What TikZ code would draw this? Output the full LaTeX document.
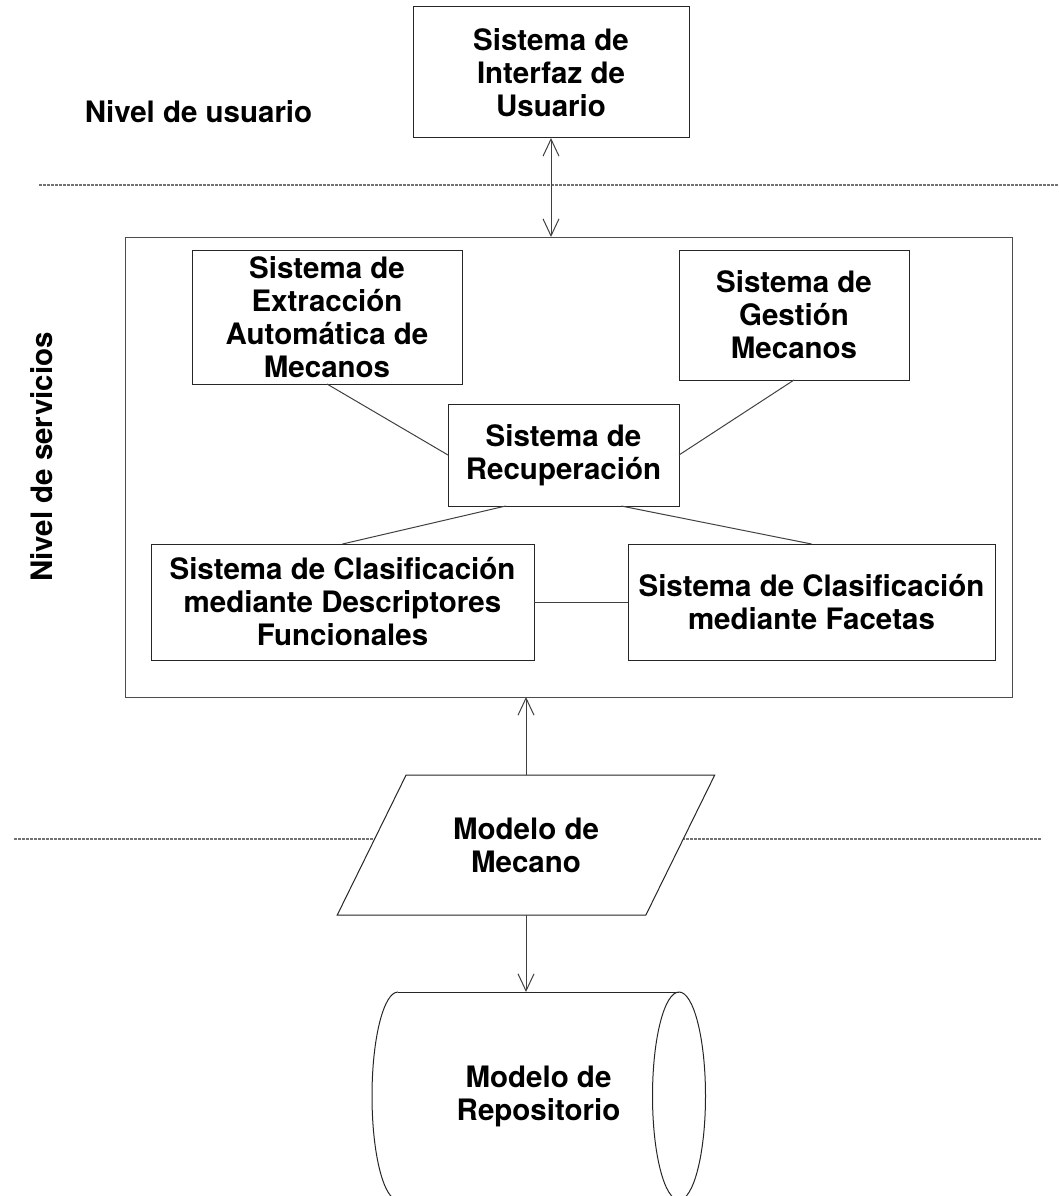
\documentclass[tikz,border=0pt]{standalone}
\usepackage{fontspec}
\setmainfont{TeX Gyre Heros}
\usetikzlibrary{shapes.geometric,arrows.meta,calc}
\begin{document}
\begin{tikzpicture}[
    x=1pt, y=-1pt,
    >={Straight Barb[length=17pt,width=16pt]},
    every node/.style={font=\bfseries\fontsize{29.5}{33}\selectfont, align=center, inner sep=0pt, outer sep=0pt},
    modulo/.style={rectangle, draw=black!85, line width=1pt, fill=white},
    nivel/.style={draw=black!55, line width=1.5pt, dash pattern=on 2.7pt off 1.3pt},
    enlace/.style={draw=black!75, line width=1pt},
  ]
  \useasboundingbox (0,0) rectangle (1058,1196);

  % Limites entre niveles
  \draw[nivel] (39,185) -- (1058,185);
  \draw[nivel] (14,839) -- (1041,839);

  % Etiquetas de nivel
  \node (nusuario) at (198.5,112) {Nivel de usuario};
  \node[rotate=90] (nservicios) at (42,457) {Nivel de servicios};

  % Nivel de usuario
  \node[modulo, minimum width=276pt, minimum height=131pt] (interfaz) at (551,72.5) {Sistema de\\Interfaz de\\Usuario};

  % Nivel de servicios
  \node[rectangle, draw=black!70, line width=1pt, minimum width=887pt, minimum height=460pt] (servicios) at (568.5,467) {};
  \node[modulo, minimum width=270pt, minimum height=134pt] (extraccion) at (327,317) {Sistema de\\Extracción\\Automática de\\Mecanos};
  \node[modulo, minimum width=230pt, minimum height=130pt] (gestion) at (794,315) {Sistema de\\Gestión\\Mecanos};
  \node[modulo, minimum width=231pt, minimum height=102pt] (recuperacion) at (563.5,455) {Sistema de\\Recuperación};
  \node[modulo, minimum width=383pt, minimum height=116pt] (cdescriptores) at (342.5,602) {Sistema de Clasificación\\mediante Descriptores\\Funcionales};
  \node[modulo, minimum width=367pt, minimum height=116pt] (cfacetas) at (811.5,602) {Sistema de Clasificación\\mediante Facetas};

  % Modelos
  \node[trapezium, trapezium left angle=52.6, trapezium right angle=127.4, trapezium stretches=true,
        draw=black!85, line width=1pt, fill=white,
        minimum width=378pt, minimum height=140pt] (mecano) at (526,845) {Modelo de\\Mecano};
  \node[minimum width=281pt, minimum height=208pt] (repositorio) at (538.5,1096) {Modelo de\\Repositorio};
  \draw[draw=black!85, line width=1pt] (repositorio.north west) -- (repositorio.north east);
  \draw[draw=black!85, line width=1pt] (repositorio.north west) arc[start angle=90, end angle=270, x radius=26pt, y radius=104pt];
  \draw[draw=black!85, line width=1pt] (repositorio.east) ellipse[x radius=26.5pt, y radius=104pt];

  % Conexiones
  \draw[<->, enlace] (interfaz.south) -- (interfaz.south |- servicios.north);
  \draw[enlace] (extraccion.south) -- (recuperacion.west);
  \draw[enlace] (gestion.south) -- (recuperacion.east);
  \draw[enlace] ($(recuperacion.south)!0.5!(recuperacion.south west)$) -- (cdescriptores.north);
  \draw[enlace] ($(recuperacion.south)!0.5!(recuperacion.south east)$) -- (cfacetas.north);
  \draw[enlace] (cdescriptores.east) -- (cfacetas.west);
  \draw[->, enlace] (mecano.north) -- (mecano.north |- servicios.south);
  \draw[->, enlace] (mecano.south) -- (mecano.south |- repositorio.north);
\end{tikzpicture}
\end{document}
